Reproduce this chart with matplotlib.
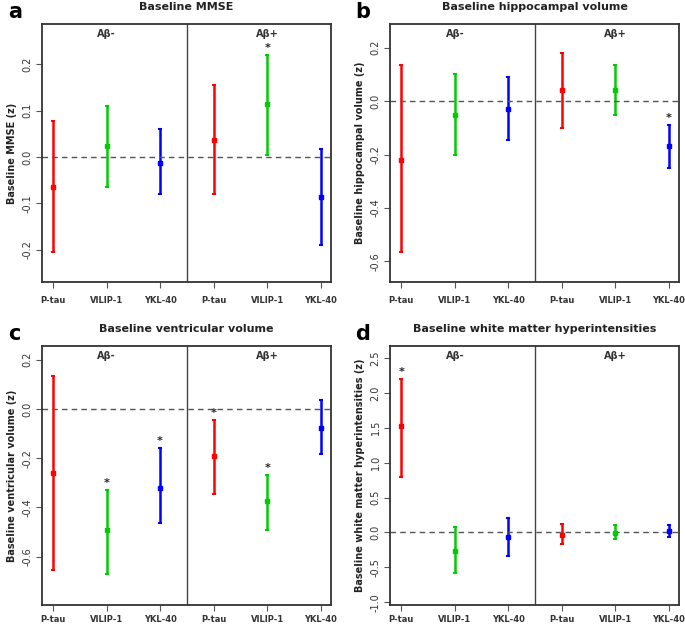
import matplotlib.pyplot as plt

markers = ['P-tau', 'VILIP-1', 'YKL-40', 'P-tau', 'VILIP-1', 'YKL-40']
bar_colors = ['#ff0000', '#00cd00', '#0000ff'] * 2
groups = ['A\u03b2-', 'A\u03b2+']

# panel a: baseline MMSE
mmse_mean = [-0.065, 0.023, -0.013, 0.037, 0.115, -0.087]
mmse_lo = [-0.205, -0.065, -0.080, -0.080, 0.005, -0.190]
mmse_hi = [0.077, 0.110, 0.060, 0.155, 0.220, 0.017]
mmse_sig = [False, False, False, False, True, False]

# panel b: hippocampal volume
hip_mean = [-0.220, -0.053, -0.030, 0.040, 0.040, -0.170]
hip_lo = [-0.565, -0.200, -0.147, -0.102, -0.053, -0.250]
hip_hi = [0.135, 0.100, 0.090, 0.180, 0.135, -0.090]
hip_sig = [False, False, False, False, False, True]

# panel c: ventricular volume
ven_mean = [-0.260, -0.490, -0.320, -0.190, -0.375, -0.077]
ven_lo = [-0.655, -0.670, -0.465, -0.345, -0.490, -0.185]
ven_hi = [0.135, -0.330, -0.160, -0.045, -0.270, 0.037]
ven_sig = [False, True, True, True, True, False]

# panel d: white matter hyperintensities
wmh_mean = [1.53, -0.26, -0.06, -0.03, -0.01, 0.02]
wmh_lo = [0.80, -0.58, -0.34, -0.17, -0.10, -0.07]
wmh_hi = [2.20, 0.08, 0.21, 0.12, 0.10, 0.11]
wmh_sig = [True, False, False, False, False, False]

panels = [
    ('a', 'Baseline MMSE', 'Baseline MMSE (z)', mmse_mean, mmse_lo, mmse_hi, mmse_sig,
     (-0.27, 0.287), [-0.2, -0.1, 0.0, 0.1, 0.2], [0.0613, 0.548, 0.422, 0.4135], 0.012, 6),
    ('b', 'Baseline hippocampal volume', 'Baseline hippocampal volume (z)', hip_mean, hip_lo, hip_hi, hip_sig,
     (-0.677, 0.288), [-0.6, -0.4, -0.2, 0.0, 0.2], [0.570, 0.548, 0.421, 0.4135], 0.519, 6),
    ('c', 'Baseline ventricular volume', 'Baseline ventricular volume (z)', ven_mean, ven_lo, ven_hi, ven_sig,
     (-0.796, 0.255), [-0.6, -0.4, -0.2, 0.0, 0.2], [0.0613, 0.0304, 0.422, 0.415], 0.012, 3),
    ('d', 'Baseline white matter hyperintensities', 'Baseline white matter hyperintensities (z)',
     wmh_mean, wmh_lo, wmh_hi, wmh_sig,
     (-1.04, 2.67), [-1.0, -0.5, 0.0, 0.5, 1.0, 1.5, 2.0, 2.5], [0.570, 0.0304, 0.421, 0.415], 0.518, 3),
]

fig = plt.figure(figsize=(6.85, 6.24), dpi=100)

for letter, title, ylabel, mean, lo, hi, sig, ylim, yticks, pos, letter_x, xpad in panels:
    ax = fig.add_axes(pos)
    xs = range(1, 7)
    span = ylim[1] - ylim[0]
    for x, m, l, h, c, s in zip(xs, mean, lo, hi, bar_colors, sig):
        ax.errorbar([x], [m], yerr=[[m - l], [h - m]], color=c, fmt='s', ms=2.5,
                    elinewidth=1.8, capsize=1.5, capthick=1.5)
        if s:
            ax.text(x, h + span * 0.028, '*', ha='center', va='center', fontsize=8,
                    fontweight='bold', color='#222222')
    ax.axhline(0, color='#555555', ls='--', lw=1, dashes=(4, 3))
    ax.axvline(3.5, color='#444444', lw=1)
    ax.set_xlim(0.795, 6.19)
    ax.set_ylim(*ylim)
    ax.text(2, ylim[1] - span * 0.04, groups[0], ha='center', va='center', fontsize=7, fontweight='bold', color='#333333')
    ax.text(5, ylim[1] - span * 0.04, groups[1], ha='center', va='center', fontsize=7, fontweight='bold', color='#333333')
    ax.set_xticks(list(xs))
    ax.set_xticklabels(markers, fontsize=6, fontweight='bold', color='#333333')
    ax.set_yticks(yticks)
    ax.set_yticklabels(['%.1f' % t for t in yticks], rotation=90, va='center', fontsize=7, color='#333333')
    ax.tick_params(axis='x', length=4, pad=xpad, color='#555555')
    ax.tick_params(axis='y', length=4, pad=3, color='#555555')
    ax.set_ylabel(ylabel, fontsize=7, fontweight='bold', color='#222222', labelpad=4)
    for sp in ax.spines.values():
        sp.set_linewidth(1.3)
        sp.set_color('#333333')
    ax.set_title(title, fontsize=8, fontweight='bold', color='#222222', pad=10)
    fig.text(letter_x, pos[1] + pos[3] + 0.019, letter, fontsize=15, fontweight='bold', va='center')

fig.savefig('out.png', dpi=100)
